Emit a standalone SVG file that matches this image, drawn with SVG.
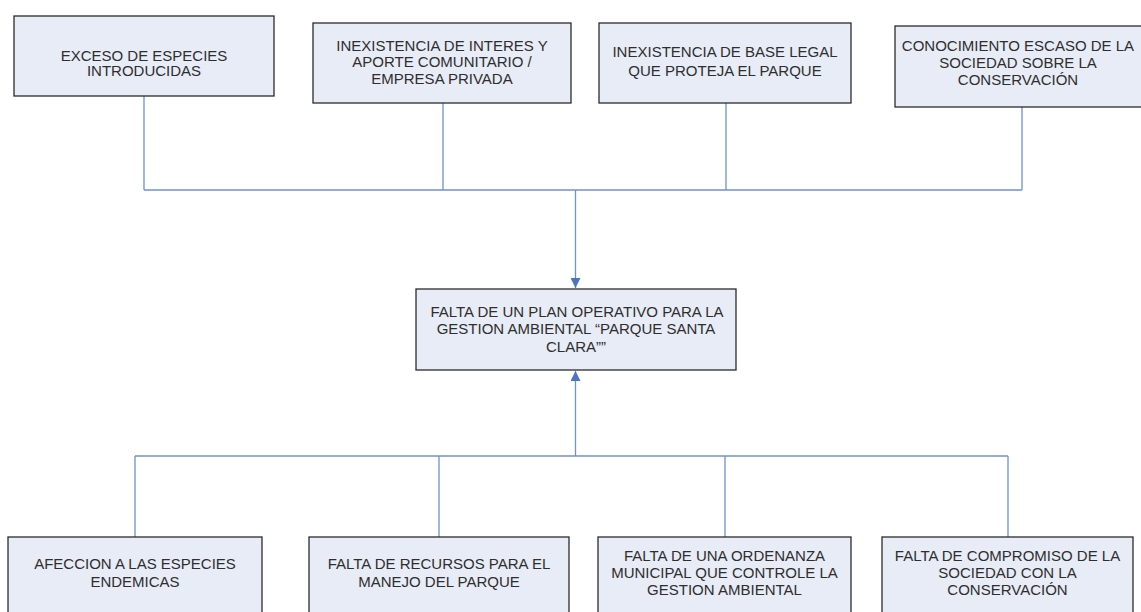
<svg xmlns="http://www.w3.org/2000/svg" width="1141" height="612" viewBox="0 0 1141 612">
<style>
.box{fill:#E7ECF6;stroke:#2b2b2b;stroke-width:1.3}
.t{font-family:"Liberation Sans",Arial,sans-serif;font-size:15px;fill:#2e2e2e;text-anchor:middle}
.c{fill:none;stroke:#6F92CC;stroke-width:1.3}
</style>
<defs>
<marker id="ah" markerWidth="10" markerHeight="10" refX="10" refY="5" orient="auto" markerUnits="userSpaceOnUse">
<path d="M0,0 L10,5 L0,10 Z" fill="#4A76C0"/>
</marker>
</defs>
<rect width="1141" height="612" fill="#ffffff"/>
<g id="connectors">
<path class="c" d="M144,96 V190 M443,103 V190 M726,103 V190 M1022,107 V190 M144,190 H1022"/>
<path class="c" d="M575.5,190 V288" marker-end="url(#ah)"/>
<path class="c" d="M135,537 V456 M439,537 V456 M725,537 V456 M1008,537 V456 M135,456 H1008"/>
<path class="c" d="M575.5,456 V371" marker-end="url(#ah)"/>
</g>
<g id="n1">
<rect class="box" x="14" y="16" width="260" height="80"/>
<text class="t" x="144" y="60.5">EXCESO DE ESPECIES</text>
<text class="t" x="144" y="76">INTRODUCIDAS</text>
</g>
<g id="n2">
<rect class="box" x="313" y="23" width="258" height="80"/>
<text class="t" x="442" y="50.5">INEXISTENCIA DE INTERES Y</text>
<text class="t" x="442" y="67">APORTE COMUNITARIO /</text>
<text class="t" x="442" y="83.5">EMPRESA PRIVADA</text>
</g>
<g id="n3">
<rect class="box" x="599" y="23" width="252" height="80"/>
<text class="t" x="725" y="57">INEXISTENCIA DE BASE LEGAL</text>
<text class="t" x="725" y="75.5">QUE PROTEJA EL PARQUE</text>
</g>
<g id="n4">
<rect class="box" x="895" y="26" width="260" height="81"/>
<text class="t" x="1018" y="51">CONOCIMIENTO ESCASO DE LA</text>
<text class="t" x="1018" y="68">SOCIEDAD SOBRE LA</text>
<text class="t" x="1018" y="85">CONSERVACIÓN</text>
</g>
<g id="center">
<rect class="box" x="416" y="289" width="320" height="81"/>
<text class="t" x="577" y="316.5">FALTA DE UN PLAN OPERATIVO PARA LA</text>
<text class="t" x="576" y="334">GESTION AMBIENTAL “PARQUE SANTA</text>
<text class="t" x="576" y="351.5">CLARA””</text>
</g>
<g id="b1">
<rect class="box" x="8" y="537" width="254" height="90"/>
<text class="t" x="135" y="568.5">AFECCION A LAS ESPECIES</text>
<text class="t" x="135" y="587">ENDEMICAS</text>
</g>
<g id="b2">
<rect class="box" x="309" y="537" width="260" height="90"/>
<text class="t" x="439" y="568.5">FALTA DE RECURSOS PARA EL</text>
<text class="t" x="439" y="587">MANEJO DEL PARQUE</text>
</g>
<g id="b3">
<rect class="box" x="598" y="537" width="253" height="90"/>
<text class="t" x="724.5" y="561">FALTA DE UNA ORDENANZA</text>
<text class="t" x="724.5" y="578">MUNICIPAL QUE CONTROLE LA</text>
<text class="t" x="724.5" y="595">GESTION AMBIENTAL</text>
</g>
<g id="b4">
<rect class="box" x="882" y="537" width="251" height="90"/>
<text class="t" x="1007.5" y="561">FALTA DE COMPROMISO DE LA</text>
<text class="t" x="1007.5" y="578">SOCIEDAD CON LA</text>
<text class="t" x="1007.5" y="595">CONSERVACIÓN</text>
</g>
</svg>
